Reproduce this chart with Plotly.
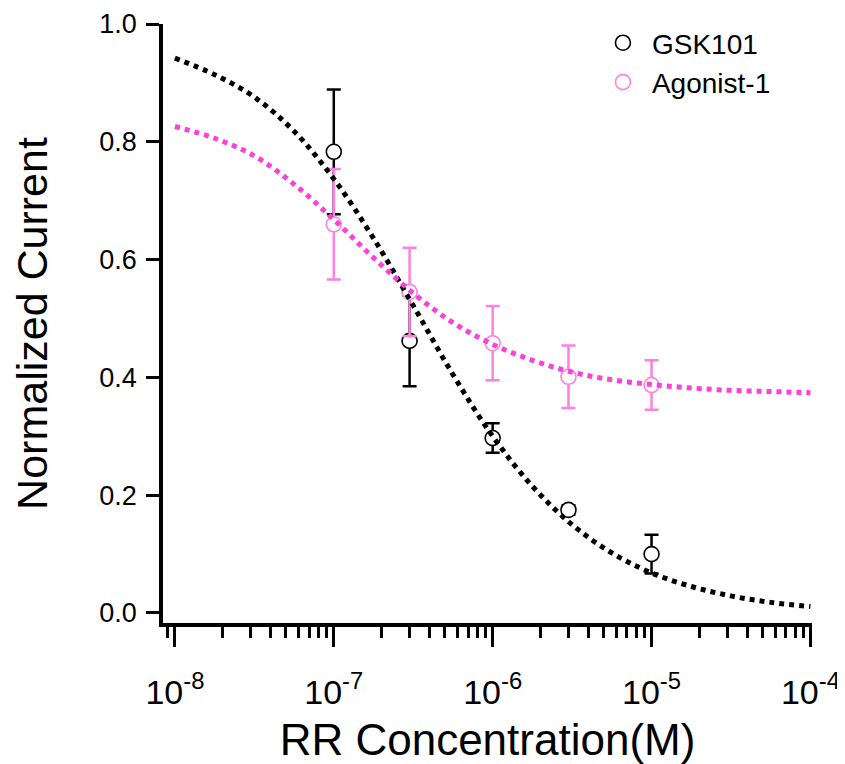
import plotly.graph_objects as go

# measured points (concentration in M)
conc = [1e-7, 3e-7, 1e-6, 3e-6, 1e-5]
gsk_mean = [0.783, 0.462, 0.297, 0.175, 0.100]
gsk_err = [0.106, 0.077, 0.025, 0.008, 0.033]
ago_mean = [0.660, 0.545, 0.458, 0.401, 0.387]
ago_err = [0.094, 0.075, 0.063, 0.053, 0.042]

fit_conc = [1e-8, 1.78e-8, 3.16e-8, 5.62e-8, 1e-7, 1.78e-7, 3.16e-7, 5.62e-7,
            1e-6, 1.78e-6, 3.16e-6, 5.62e-6, 1e-5, 1.78e-5, 3.16e-5, 5.62e-5, 1e-4]
gsk_fit = [0.942, 0.914, 0.876, 0.818, 0.737, 0.636, 0.522, 0.405, 0.300,
           0.215, 0.150, 0.102, 0.068, 0.045, 0.029, 0.018, 0.011]
ago_fit = [0.826, 0.806, 0.776, 0.728, 0.668, 0.603, 0.543, 0.493, 0.456,
           0.429, 0.409, 0.396, 0.388, 0.382, 0.378, 0.376, 0.374]

x_tickvals = [1e-8, 1e-7, 1e-6, 1e-5, 1e-4]
x_ticktext = ["10<sup>-8</sup>", "10<sup>-7</sup>", "10<sup>-6</sup>",
              "10<sup>-5</sup>", "10<sup>-4</sup>"]

black = "#000000"
pink_pts = "#ff80e0"
pink_fit = "#ff40d8"
font = "Liberation Sans, Arial, sans-serif"

fig = go.Figure()

fig.add_trace(go.Scatter(x=conc, y=gsk_mean, mode="markers", name="GSK101",
                         error_y=dict(type="data", array=gsk_err, color=black,
                                      thickness=2.5, width=7),
                         marker=dict(symbol="circle", size=15, color="white",
                                     line=dict(color=black, width=1.6))))
fig.add_trace(go.Scatter(x=conc, y=ago_mean, mode="markers", name="Agonist-1",
                         error_y=dict(type="data", array=ago_err, color=pink_pts,
                                      thickness=2.5, width=7),
                         marker=dict(symbol="circle", size=15, color="white",
                                     line=dict(color=pink_pts, width=1.6))))
fig.add_trace(go.Scatter(x=fit_conc, y=gsk_fit, mode="lines", showlegend=False,
                         line=dict(color=black, width=5, dash="dot", shape="spline")))
fig.add_trace(go.Scatter(x=fit_conc, y=ago_fit, mode="lines", showlegend=False,
                         line=dict(color=pink_fit, width=5, dash="dot", shape="spline")))

# the page body has an 8px margin, so the figure is a bit smaller than the window
fig.update_layout(width=837, height=756,
                  margin=dict(l=155, r=33, t=16, b=141, autoexpand=False),
                  plot_bgcolor="white", paper_bgcolor="white",
                  font=dict(family=font, color="black"),
                  legend=dict(x=0.664, y=1.01, xanchor="left", yanchor="top",
                              font=dict(size=28), bgcolor="rgba(0,0,0,0)",
                              itemwidth=48, tracegroupgap=0))

fig.update_xaxes(type="log", range=[-8.075, -3.99], automargin=False,
                 tickmode="array", tickvals=x_tickvals, ticktext=x_ticktext,
                 ticks="outside", ticklen=20, tickwidth=3, tickcolor=black,
                 minor=dict(ticks="outside", ticklen=11, tickwidth=3,
                            tickcolor=black, dtick="D1", showgrid=False),
                 showline=True, linewidth=3.5, linecolor=black,
                 showgrid=False, zeroline=False,
                 tickfont=dict(size=34), ticklabelstandoff=16,
                 title=dict(text="RR Concentration(M)", font=dict(size=44), standoff=25))
fig.update_yaxes(range=[-0.017, 1.0], dtick=0.2, tick0=0, tickformat=".1f",
                 automargin=False,
                 ticks="outside", ticklen=13, tickwidth=3, tickcolor=black,
                 showline=True, linewidth=3.5, linecolor=black,
                 showgrid=False, zeroline=False,
                 tickfont=dict(size=27), ticklabelstandoff=4,
                 title=dict(text="Normalized Current", font=dict(size=43), standoff=40))

fig.write_html("out.html")
